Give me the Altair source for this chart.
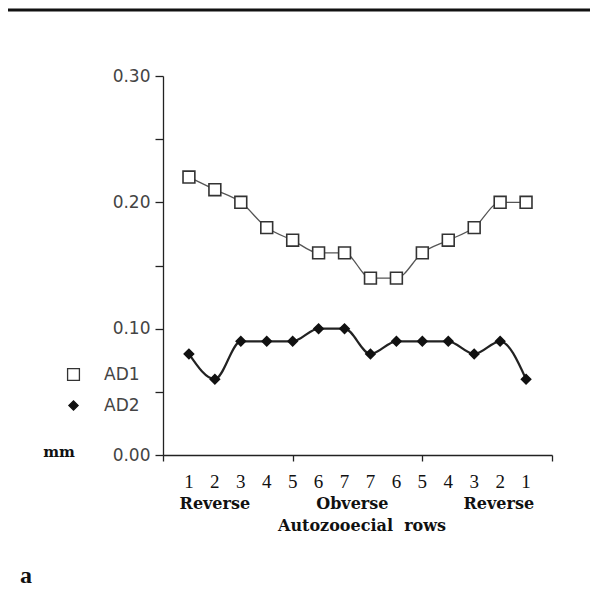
import altair as alt
import pandas as pd

positions = list(range(1, 15))
row_labels = ["1", "2", "3", "4", "5", "6", "7", "7", "6", "5", "4", "3", "2", "1"]
ad1 = [0.22, 0.21, 0.20, 0.18, 0.17, 0.16, 0.16, 0.14, 0.14, 0.16, 0.17, 0.18, 0.20, 0.20]
ad2 = [0.08, 0.06, 0.09, 0.09, 0.09, 0.10, 0.10, 0.08, 0.09, 0.09, 0.09, 0.08, 0.09, 0.06]
series_names = ["AD1", "AD2"]
side_labels = ["Reverse", "Obverse", "Reverse"]
side_pos = [2.0, 7.3, 12.95]

W, H = 389, 379
SERIF = "Liberation Serif"
WSERIF = "DejaVu Serif"
SANS = "DejaVu Sans"

long = pd.DataFrame({
    "pos": positions * 2,
    "value": ad1 + ad2,
    "series": [series_names[0]] * 14 + [series_names[1]] * 14,
})
rows = pd.DataFrame({"pos": positions, "label": row_labels})
sides = pd.DataFrame({"pos": side_pos, "label": side_labels})

xscale = alt.Scale(domain=[0, 15], nice=False, zero=False)
yscale = alt.Scale(domain=[0, 0.30], nice=False)

xaxis = alt.Axis(values=[0, 5, 10, 15], labels=False, title=None, tickSize=6,
                 domainColor="#222", tickColor="#222", domainWidth=1.3, tickWidth=1.3, grid=False)
yaxis = alt.Axis(values=[0, 0.05, 0.10, 0.15, 0.20, 0.25, 0.30], title=None, tickSize=8,
                 labelExpr="round(datum.value*100) % 10 == 0 ? format(datum.value, '.2f') : ''",
                 labelFont=SANS, labelFontSize=17, labelColor="#444", labelPadding=5,
                 domainColor="#222", tickColor="#222", domainWidth=1.3, tickWidth=1.3, grid=False)

base = alt.Chart(long)

line1 = base.transform_filter(alt.datum.series == "AD1").mark_line(
    interpolate="monotone", color="#555", strokeWidth=1.3
).encode(x=alt.X("pos:Q", scale=xscale, axis=xaxis), y=alt.Y("value:Q", scale=yscale, axis=yaxis))

line2 = base.transform_filter(alt.datum.series == "AD2").mark_line(
    interpolate="monotone", color="#222", strokeWidth=2.2
).encode(x=alt.X("pos:Q", scale=xscale), y=alt.Y("value:Q", scale=yscale))

points = base.mark_point(strokeWidth=1.6, opacity=1, filled=False).encode(
    x=alt.X("pos:Q", scale=xscale),
    y=alt.Y("value:Q", scale=yscale),
    shape=alt.Shape("series:N", scale=alt.Scale(domain=series_names, range=["square", "diamond"]), title=None),
    fill=alt.Fill("series:N", scale=alt.Scale(domain=series_names, range=["white", "#111"]), title=None),
    color=alt.Color("series:N", scale=alt.Scale(domain=series_names, range=["#333", "#111"]), title=None),
    size=alt.Size("series:N", scale=alt.Scale(domain=series_names, range=[140, 85]), title=None),
)

row_text = alt.Chart(rows).mark_text(font=SERIF, fontSize=19, color="#111", baseline="middle").encode(
    x=alt.X("pos:Q", scale=xscale), y=alt.value(H + 27), text="label:N")

side_text = alt.Chart(sides).mark_text(font=WSERIF, fontSize=16, fontWeight="bold", color="#111",
                                       baseline="middle").encode(
    x=alt.X("pos:Q", scale=xscale), y=alt.value(H + 49), text="label:N")

title_text = alt.Chart(pd.DataFrame({"t": ["Autozooecial\u00a0\u00a0rows"]})).mark_text(
    font=WSERIF, fontSize=16, fontWeight="bold", color="#111", baseline="middle").encode(
    x=alt.value(199), y=alt.value(H + 71), text="t:N")

mm_text = alt.Chart(pd.DataFrame({"t": ["mm"]})).mark_text(
    font=WSERIF, fontSize=15, fontWeight="bold", color="#111", baseline="middle").encode(
    x=alt.value(-104), y=alt.value(H - 3), text="t:N")

a_text = alt.Chart(pd.DataFrame({"t": ["a"]})).mark_text(
    font=SERIF, fontSize=24, fontWeight="bold", color="#111", baseline="middle").encode(
    x=alt.value(-137), y=alt.value(H + 121), text="t:N")

frame = alt.Chart(pd.DataFrame({"t": [0]})).mark_rule(color="#111", strokeWidth=3).encode(
    x=alt.value(-155), x2=alt.value(W + 60), y=alt.value(-66))

chart = alt.layer(line1, line2, points, row_text, side_text, title_text, mm_text, a_text, frame).properties(
    width=W, height=H,
    padding={"left": 155, "top": 68, "right": 38, "bottom": 141},
    autosize=alt.AutoSizeParams(type="none"),
    background="white",
).configure_view(stroke=None).configure_legend(
    orient="none", legendX=-98, legendY=290, title=None,
    labelFont=SANS, labelFontSize=17, labelColor="#444",
    rowPadding=12, symbolStrokeWidth=1.3, labelOffset=22,
)

chart.save("out.html", embed_options={"renderer": "svg", "actions": False})
